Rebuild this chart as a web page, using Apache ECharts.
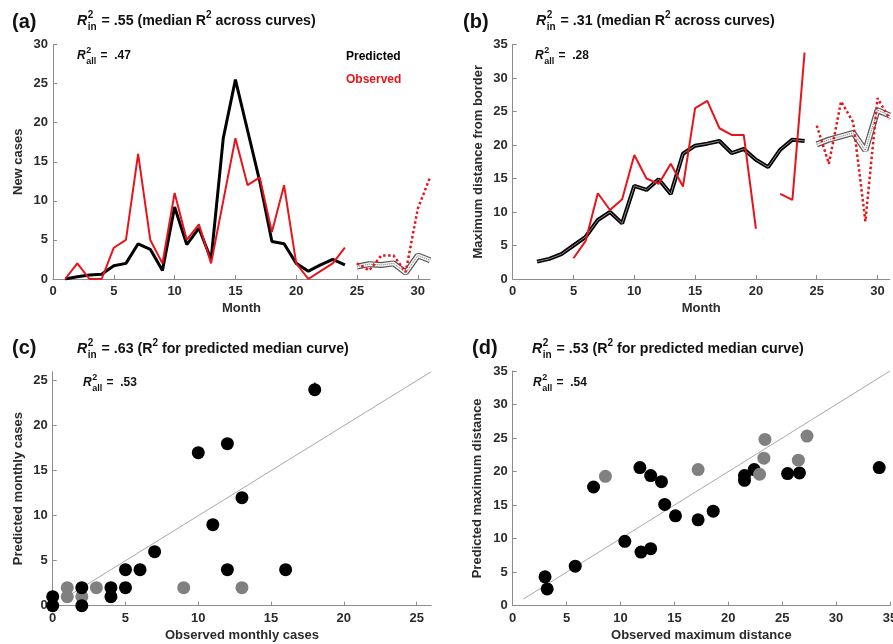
<!DOCTYPE html>
<html>
<head>
<meta charset="utf-8">
<script src="https://cdn.jsdelivr.net/npm/echarts@6/dist/echarts.min.js"></script>
<style>
  html, body { margin: 0; padding: 0; background: #fff; }
  #main { width: 893px; height: 644px; }
</style>
</head>
<body>
<div id="main"></div>
<script>
// data
const monthsA = [1, 2, 3, 4, 5, 6, 7, 8, 9, 10, 11, 12, 13, 14, 15, 16, 17, 18, 19, 20, 21, 22, 23, 24];
const obsCasesA = [0, 2, 0, 0, 4, 5, 16, 5, 2, 11, 5, 7, 2, 10, 18, 12, 13, 6, 12, 2, 0, 1, 2, 4];
const predCasesA = [0, 0.3, 0.5, 0.6, 1.7, 2, 4.5, 3.8, 1.1, 9.2, 4.4, 6.5, 2.5, 18, 25.5, 19, 12.5, 4.8, 4.5, 2, 1, 1.8, 2.5, 1.8];
const fcMonths = [25, 26, 27, 28, 29, 30, 31];
const obsFcA = [2, 1.1, 3, 3, 0.9, 9, 13];
const predFcA = [1.6, 1.9, 1.8, 2.0, 0.8, 3.0, 2.4];

const monthsPredB = [2, 3, 4, 5, 6, 7, 8, 9, 10, 11, 12, 13, 14, 15, 16, 17, 18, 19, 20, 21, 22, 23, 24];
const predDistB = [2.6, 3.0, 3.7, 5.0, 6.3, 8.8, 10.0, 8.3, 13.9, 13.3, 14.9, 12.7, 18.7, 19.9, 20.2, 20.6, 18.8, 19.4, 17.8, 16.7, 19.3, 20.8, 20.6];
const monthsObsB = [5, 6, 7, 8, 9, 10, 11, 12, 13, 14, 15, 16, 17, 18, 19, 20, 21, 22, 23, 24];
const obsDistB = [3.1, 5.7, 12.8, 10.3, 11.9, 18.5, 15, 14.2, 17.2, 13.8, 25.5, 26.6, 22.5, 21.5, 21.5, 7.5, null, 12.7, 11.8, 33.8];
const obsFcB = [22.9, 17.2, 26.5, 23.4, 8.6, 27.0, 23.9];
const predFcB = [20.1, 20.8, 21.3, 21.8, 19.2, 25.2, 24.4];

const obsC = [0, 0, 2, 2, 4, 4, 5, 5, 6, 7, 11, 12, 13, 16, 10, 12, 18];
const predC = [0, 1, 2, 0, 2, 1, 4, 2, 4, 6, 9, 4, 12, 4, 17, 18, 24];
const obsCGray = [1, 1, 2, 3, 9, 13];
const predCGray = [2, 1, 1, 2, 2, 2];
const errBarC = [18, 23.3, 24.8];

const obsD = [3.0, 3.2, 5.8, 7.5, 10.4, 11.9, 12.8, 11.8, 12.8, 13.8, 14.1, 15.1, 17.2, 18.6, 21.5, 21.5, 22.4, 25.5, 26.6, 34.0];
const predD = [4.3, 2.5, 5.9, 17.7, 9.6, 8.0, 8.5, 20.6, 19.4, 18.5, 15.1, 13.4, 12.8, 14.1, 19.4, 18.7, 20.3, 19.7, 19.8, 20.6];
const obsDGray = [8.6, 17.2, 22.9, 23.4, 23.3, 26.5, 27.3];
const predDGray = [19.3, 20.3, 19.6, 24.8, 22.0, 21.7, 25.3];

const FONT = '"Liberation Sans", Arial, sans-serif';
const RED = '#e8141b';

function pts(xs, ys) {
  return xs.map((x, i) => [x, ys[i] == null ? '-' : ys[i]]);
}

const ctx = document.createElement('canvas').getContext('2d');
function tw(t, font) { ctx.font = font; return ctx.measureText(t).width; }

// R^2 with stacked sub/superscript, then the rest (with optional superscript pieces)
function rsq(x, y, size, sub, segs) {
  const rFont = 'italic bold ' + size + 'px ' + FONT;
  const small = Math.round(size * 0.72);
  const sFont = 'bold ' + small + 'px ' + FONT;
  const nFont = 'bold ' + size + 'px ' + FONT;
  const out = [];
  out.push({ type: 'text', x: x, y: y, style: { text: 'R', font: rFont, fill: '#111', verticalAlign: 'middle' } });
  const rw = tw('R', rFont) + 0.5;
  out.push({ type: 'text', x: x + rw, y: y - size * 0.42, style: { text: '2', font: sFont, fill: '#111', verticalAlign: 'middle' } });
  out.push({ type: 'text', x: x + rw, y: y + size * 0.42, style: { text: sub, font: sFont, fill: '#111', verticalAlign: 'middle' } });
  let cx = x + rw + Math.max(tw('2', sFont), tw(sub, sFont)) + 1;
  segs.forEach(s => {
    if (s.sup) {
      out.push({ type: 'text', x: cx, y: y - size * 0.42, style: { text: s.t, font: sFont, fill: '#111', verticalAlign: 'middle' } });
      cx += tw(s.t, sFont);
    } else {
      out.push({ type: 'text', x: cx, y: y, style: { text: s.t, font: nFont, fill: '#111', verticalAlign: 'middle' } });
      cx += tw(s.t, nFont);
    }
  });
  return out;
}

function panel(x, y, t) {
  return { type: 'text', x: x, y: y, style: { text: t, font: 'bold 20px ' + FONT, fill: '#111', verticalAlign: 'middle' } };
}

const axisLab = { fontWeight: 'bold', fontSize: 13, color: '#2b2b2b', fontFamily: FONT };
const nameStyle = { fontWeight: 'bold', fontSize: 13, color: '#2b2b2b', fontFamily: FONT };

function xAx(idx, max, name) {
  return {
    type: 'value', gridIndex: idx, min: 0, max: max, interval: 5,
    name: name, nameLocation: 'middle', nameGap: 23, nameTextStyle: nameStyle,
    axisLine: { lineStyle: { color: '#8c8c8c', width: 1 } },
    axisTick: { inside: true, length: 4, lineStyle: { color: '#8c8c8c' } },
    axisLabel: Object.assign({ margin: 6, showMaxLabel: max % 5 === 0 }, axisLab),
    splitLine: { show: false }
  };
}
function yAx(idx, max, name, gap) {
  return {
    type: 'value', gridIndex: idx, min: 0, max: max, interval: 5,
    name: name, nameLocation: 'middle', nameGap: gap, nameTextStyle: nameStyle,
    axisLine: { show: true, lineStyle: { color: '#8c8c8c', width: 1 } },
    axisTick: { show: true, inside: true, length: 4, lineStyle: { color: '#8c8c8c' } },
    axisLabel: Object.assign({ margin: 5, showMaxLabel: max % 5 === 0 }, axisLab),
    splitLine: { show: false }
  };
}

function line(idx, data, color, width, type, z) {
  return {
    type: 'line', xAxisIndex: idx, yAxisIndex: idx, data: data, symbol: 'none',
    connectNulls: false, z: z || 2, silent: true,
    lineStyle: { color: color, width: width, type: type || 'solid' }
  };
}
function band(idx, data) {
  return [
    line(idx, data, '#555', 6, 'solid', 2),
    line(idx, data, '#f4f4f4', 3.6, 'solid', 3),
    line(idx, data, '#777', 1, 'dotted', 4)
  ];
}
function dots(idx, xs, ys, color, z) {
  return {
    type: 'scatter', xAxisIndex: idx, yAxisIndex: idx, data: pts(xs, ys),
    symbolSize: 13, itemStyle: { color: color, opacity: 1 }, z: z, silent: true
  };
}

const chart = echarts.init(document.getElementById('main'));

const option = {
  animation: false,
  backgroundColor: '#fff',
  grid: [
    { left: 53, top: 44.5, width: 377, height: 234.5, outerBoundsMode: 'none' },
    { left: 512.7, top: 44.5, width: 377, height: 234.5, outerBoundsMode: 'none' },
    { left: 52.7, top: 371.7, width: 378.5, height: 234, outerBoundsMode: 'none' },
    { left: 512.7, top: 371, width: 377.3, height: 234.7, outerBoundsMode: 'none' }
  ],
  xAxis: [
    xAx(0, 31, 'Month'),
    xAx(1, 31, 'Month'),
    xAx(2, 26, 'Observed monthly cases'),
    xAx(3, 35, 'Observed maximum distance')
  ],
  yAxis: [
    yAx(0, 30, 'New cases', 28),
    yAx(1, 35, 'Maximum distance from border', 28),
    yAx(2, 26, 'Predicted monthly cases', 28),
    yAx(3, 35, 'Predicted maximum distance', 29)
  ],
  series: [
    // (a)
    ...band(0, pts(fcMonths, predFcA)),
    line(0, pts(fcMonths, obsFcA), RED, 2.5, 'dotted', 5),
    line(0, pts(monthsA, predCasesA), '#000', 3, 'solid', 5),
    line(0, pts(monthsA, obsCasesA), RED, 2, 'solid', 6),
    // (b)
    ...band(1, pts(fcMonths, predFcB)),
    line(1, pts(fcMonths, obsFcB), RED, 2.5, 'dotted', 5),
    line(1, pts(monthsPredB, predDistB), '#000', 4, 'solid', 5),
    line(1, pts(monthsPredB, predDistB), '#8a8a8a', 1, 'solid', 5),
    line(1, pts(monthsObsB, obsDistB), RED, 2, 'solid', 6),
    // (c)
    line(2, [[1, 1], [26, 26]], '#a8a8a8', 1, 'solid', 1),
    dots(2, obsCGray, predCGray, '#808080', 3),
    dots(2, obsC, predC, '#000', 4),
    line(2, [[errBarC[0], errBarC[1]], [errBarC[0], errBarC[2]]], '#000', 1.5, 'solid', 5),
    // (d)
    line(3, [[1, 1], [35, 35]], '#a8a8a8', 1, 'solid', 1),
    dots(3, obsD, predD, '#000', 3),
    dots(3, obsDGray, predDGray, '#808080', 4)
  ],
  graphic: [
    panel(12, 22, '(a)'),
    panel(463, 22, '(b)'),
    panel(12, 348, '(c)'),
    panel(472, 348, '(d)'),
    ...rsq(77, 21, 14.2, 'in', [{ t: ' = .55 (median R' }, { t: '2', sup: true }, { t: ' across curves)' }]),
    ...rsq(536, 21, 14.2, 'in', [{ t: ' = .31 (median R' }, { t: '2', sup: true }, { t: ' across curves)' }]),
    ...rsq(77, 349, 14.2, 'in', [{ t: ' = .63 (R' }, { t: '2', sup: true }, { t: ' for predicted median curve)' }]),
    ...rsq(532, 349, 14.2, 'in', [{ t: ' = .53 (R' }, { t: '2', sup: true }, { t: ' for predicted median curve)' }]),
    ...rsq(77, 56, 12, 'all', [{ t: ' =  .47' }]),
    ...rsq(535, 56, 12, 'all', [{ t: ' =  .28' }]),
    ...rsq(83, 383, 12, 'all', [{ t: ' =  .53' }]),
    ...rsq(533, 383, 12, 'all', [{ t: ' =  .54' }]),
    { type: 'text', x: 346, y: 57, style: { text: 'Predicted', font: 'bold 12px ' + FONT, fill: '#000', verticalAlign: 'middle' } },
    { type: 'text', x: 346, y: 80, style: { text: 'Observed', font: 'bold 12px ' + FONT, fill: RED, verticalAlign: 'middle' } }
  ]
};

chart.setOption(option);
</script>
</body>
</html>
